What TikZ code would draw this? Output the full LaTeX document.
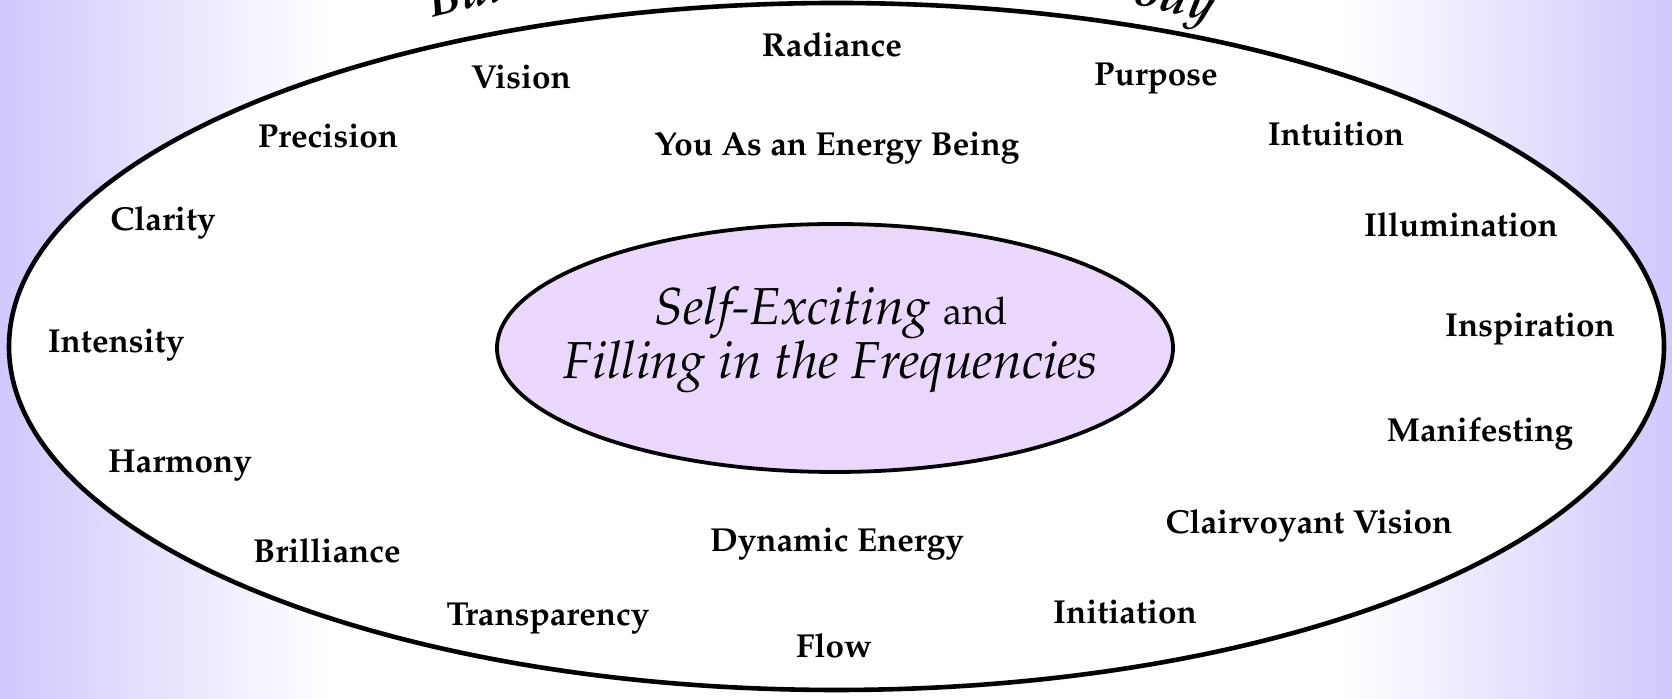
\documentclass[tikz,border=0pt]{standalone}
\usepackage[T1]{fontenc}
\usepackage{mathpazo}
\usetikzlibrary{shapes.geometric,decorations.text}
\definecolor{lav}{RGB}{210,199,252}
\definecolor{innerfill}{RGB}{233,216,252}
\tikzset{
  word/.style={font=\fontsize{16.6}{20}\selectfont\bfseries, text height=11.4pt, text depth=0pt, inner sep=0pt},
  outerring/.style={ellipse, draw=black, line width=2.3pt, fill=white, minimum width=827.5pt, minimum height=343.5pt, inner sep=0pt},
  innerring/.style={ellipse, draw=black, line width=1.9pt, fill=innerfill, minimum width=338pt, minimum height=124pt, inner sep=0pt},
  coretext/.style={align=center, inner sep=0pt}
}
\begin{document}
\begin{tikzpicture}[x=0.5pt,y=0.5pt]
\useasboundingbox (0,0) rectangle (1672,699);
\clip (0,0) rectangle (1672,699);
% background
\fill[white] (0,0) rectangle (1672,699);
\shade[left color=lav, right color=white] (0,0) rectangle (332,699);
\shade[left color=white, right color=lav] (1340,0) rectangle (1672,699);
% rings
\node[outerring] (outer) at (836.5,352.5) {};
\node[innerring] (inner) at (835,351) {};
% arc title
\path (812,353) ++(119.15:780 and 376) coordinate (arcS);
\path[decorate, decoration={text along path,
   text format delimiters={|}{|},
   text={|\fontsize{24}{28}\selectfont\bfseries\itshape|Building Your Light Body},
   text align={fit to path stretching spaces}}]
   (arcS) arc[start angle=119.15, end angle=59.32, x radius=780, y radius=376];
% center text
\node[coretext] (core) at (831,359) {%
  \fontsize{26}{34}\selectfont\itshape Self-Exciting {\upshape\fontsize{19}{34}\selectfont and}\\[0pt]
  \fontsize{26}{34}\selectfont\itshape Filling in the Frequencies};
% words
\node[word] (radiance) at (832,654) {Radiance};
\node[word] (vision) at (521,622) {Vision};
\node[word] (purpose) at (1156,625) {Purpose};
\node[word] (precision) at (328,563) {Precision};
\node[word] (energybeing) at (837,555) {You As an Energy Being};
\node[word] (intuition) at (1336,565) {Intuition};
\node[word] (clarity) at (163,480) {Clarity};
\node[word] (illumination) at (1461,474) {Illumination};
\node[word] (intensity) at (116,358) {Intensity};
\node[word] (inspiration) at (1530,374) {Inspiration};
\node[word] (harmony) at (180,238) {Harmony};
\node[word] (manifesting) at (1480,269) {Manifesting};
\node[word] (brilliance) at (327,148) {Brilliance};
\node[word] (clairvoyant) at (1309,177) {Clairvoyant Vision};
\node[word] (dynamic) at (837,159) {Dynamic Energy};
\node[word] (transparency) at (548,85) {Transparency};
\node[word] (initiation) at (1125,87) {Initiation};
\node[word] (flow) at (834,53) {Flow};
\end{tikzpicture}
\end{document}
